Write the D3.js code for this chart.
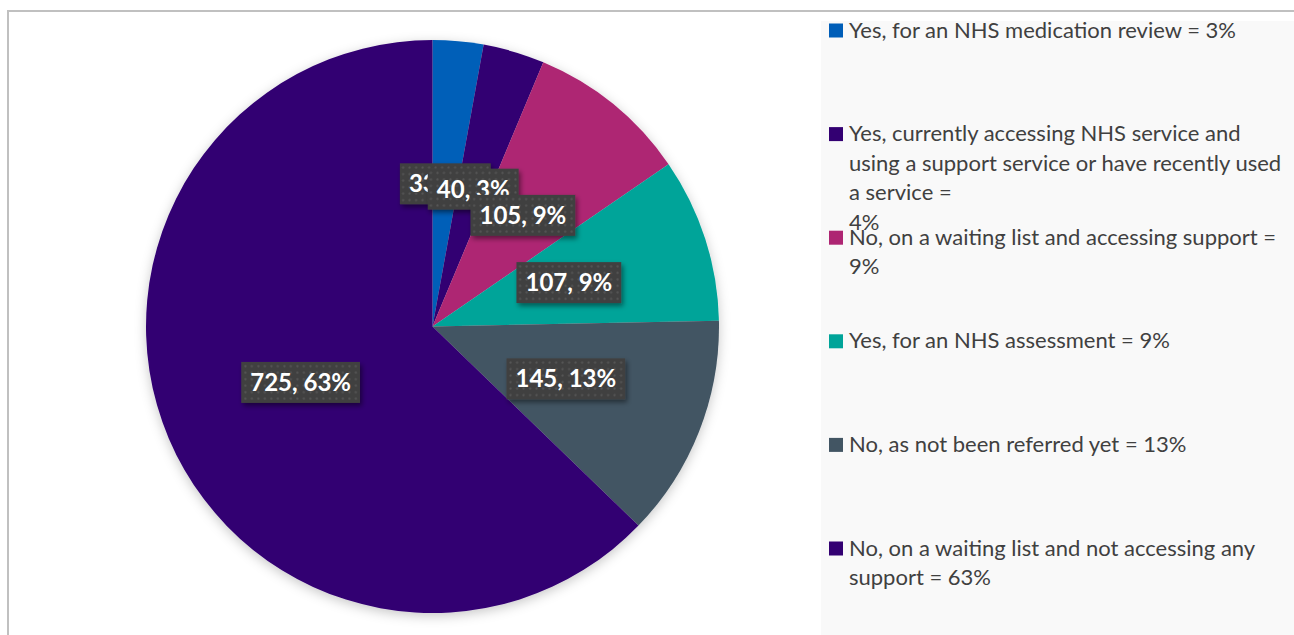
<!DOCTYPE html>
<html>
<head>
<meta charset="utf-8">
<script src="https://cdn.jsdelivr.net/npm/d3@7"></script>
<style>
  html, body { margin: 0; padding: 0; background: #ffffff; }
  svg { display: block; }
</style>
</head>
<body>
<svg id="chart" width="1294" height="635"></svg>
<script>
// Referral / waiting status of respondents
const categories = [
  "Yes, for an NHS medication review",
  "Yes, currently accessing NHS service",
  "No, on a waiting list and accessing support",
  "Yes, for an NHS assessment",
  "No, as not been referred yet",
  "No, on a waiting list and not accessing any support"
];
const counts = [33, 40, 105, 107, 145, 725];
const percents = [3, 3, 9, 9, 13, 63];
const colors = ["#005EB8", "#330072", "#AE2573", "#00A499", "#425563", "#330072"];
// Legend entries, with their own line breaks
const legendLines = [
  ["Yes, for an NHS medication review = 3%"],
  ["Yes, currently accessing NHS service and", "using a support service or have recently used", "a service =", "4%"],
  ["No, on a waiting list and accessing support =", "9%"],
  ["Yes, for an NHS assessment = 9%"],
  ["No, as not been referred yet = 13%"],
  ["No, on a waiting list and not accessing any", "support = 63%"]
];

const svg = d3.select("#chart");
const W = 1294, H = 635;

const defs = svg.append("defs");
const pieShadow = defs.append("filter").attr("id", "pieShadow")
  .attr("x", "-20%").attr("y", "-20%").attr("width", "140%").attr("height", "140%");
pieShadow.append("feDropShadow").attr("dx", 0).attr("dy", 3).attr("stdDeviation", 6)
  .attr("flood-color", "#000").attr("flood-opacity", 0.22);

const boxShadow = defs.append("filter").attr("id", "boxShadow")
  .attr("x", "-20%").attr("y", "-30%").attr("width", "150%").attr("height", "170%");
boxShadow.append("feDropShadow").attr("dx", 2).attr("dy", 3).attr("stdDeviation", 2.5)
  .attr("flood-color", "#000").attr("flood-opacity", 0.45);

const dots = defs.append("pattern").attr("id", "dots")
  .attr("patternUnits", "userSpaceOnUse").attr("width", 6.5).attr("height", 6.5);
dots.append("rect").attr("width", 6.5).attr("height", 6.5).attr("fill", "#404040");
dots.append("circle").attr("cx", 3.25).attr("cy", 3.25).attr("r", 1.1).attr("fill", "#555555");

// Legend panel background
svg.append("rect").attr("x", 821).attr("y", 21).attr("width", W - 821).attr("height", H - 21)
  .attr("fill", "#f9f9f9");

// Chart frame (top and left edges visible)
svg.append("path").attr("d", `M8,${H} L8,11 L${W},11`)
  .attr("fill", "none").attr("stroke", "#c0c0c0").attr("stroke-width", 2);

// Pie
const cx = 432.5, cy = 326.5, R = 286.5;
const pie = d3.pie().sort(null).value(d => d)(counts);
const arc = d3.arc().innerRadius(0).outerRadius(R);

const g = svg.append("g").attr("transform", `translate(${cx},${cy})`);
g.append("g").attr("filter", "url(#pieShadow)")
  .selectAll("path").data(pie).join("path")
  .attr("d", arc)
  .attr("fill", (d, i) => colors[i]);

// Data labels at the slice centroids
const labels = g.append("g").selectAll("g.lbl").data(pie).join("g")
  .attr("class", "lbl")
  .attr("transform", d => `translate(${arc.centroid(d)})`);

labels.each(function(d, i) {
  const sel = d3.select(this);
  const txt = sel.append("text")
    .attr("text-anchor", "middle")
    .attr("dy", "0.36em")
    .attr("font-family", "Lato, 'Open Sans', sans-serif")
    .attr("font-weight", 700)
    .attr("font-size", 24)
    .attr("fill", "#ffffff")
    .text(`${counts[i]}, ${percents[i]}%`);
  const bb = txt.node().getBBox();
  const padX = 9, h = 41;
  sel.insert("rect", "text")
    .attr("x", -bb.width / 2 - padX)
    .attr("y", -h / 2)
    .attr("width", bb.width + padX * 2)
    .attr("height", h)
    .attr("fill", "url(#dots)")
    .attr("filter", "url(#boxShadow)");
});

// Legend
const legendY = d3.scaleLinear().domain([0, 5]).range([37.5, 555.5]);
const lineH = 29.5;
const leg = svg.append("g").selectAll("g").data(categories).join("g")
  .attr("transform", (d, i) => `translate(829,${legendY(i)})`);
leg.append("rect").attr("x", 0).attr("y", -14).attr("width", 14).attr("height", 14)
  .attr("fill", (d, i) => colors[i]);
leg.append("text")
  .attr("font-family", "Lato, 'Open Sans', sans-serif")
  .attr("font-size", 22)
  .attr("fill", "#404040")
  .each(function(d, i) {
    d3.select(this).selectAll("tspan").data(legendLines[i]).join("tspan")
      .attr("x", 20)
      .attr("y", (t, j) => j * lineH)
      .text(t => t);
  });
</script>
</body>
</html>
